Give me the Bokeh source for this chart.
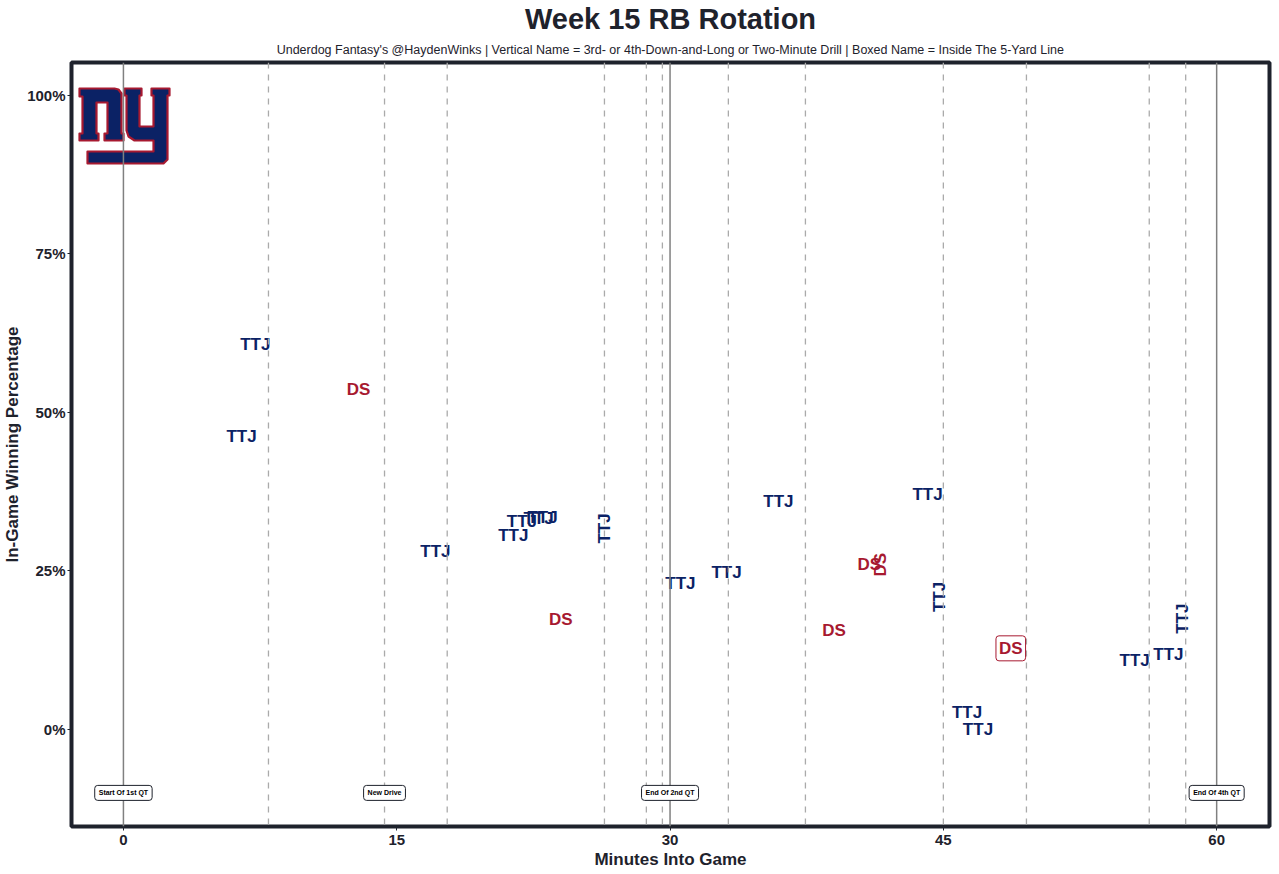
import numpy as np
from bokeh.plotting import figure
from bokeh.models import Range1d, FixedTicker, Span, Label, Title, ColumnDataSource
from bokeh.embed import file_html
from bokeh.resources import INLINE
from bokeh.core.properties import value

# ---------------- data ----------------
players  = ["TTJ", "TTJ", "DS", "TTJ", "TTJ", "TTJ", "TTJ", "TTJ", "TTJ", "DS",
            "TTJ", "TTJ", "TTJ", "TTJ", "DS", "DS", "DS", "TTJ", "TTJ", "TTJ",
            "DS", "TTJ", "TTJ", "TTJ"]
minutes  = [6.48, 7.24, 12.9, 17.12, 21.4, 21.87, 22.78, 23.0, 26.4, 24.0,
            30.57, 33.1, 35.95, 44.13, 39.0, 40.94, 41.55, 44.8, 46.3, 46.9,
            48.7, 55.5, 57.35, 58.1]
win_pct  = [46.2, 60.7, 53.6, 28.1, 30.6, 32.8, 33.3, 33.4, 31.7, 17.4,
            23.0, 24.8, 36.0, 37.1, 15.6, 26.0, 26.0, 20.9, 2.7, 0.0,
            12.8, 10.9, 11.8, 17.5]
vertical = [False, False, False, False, False, False, False, False, True, False,
            False, False, False, False, False, False, True, True, False, False,
            False, False, False, True]
boxed    = [False, False, False, False, False, False, False, False, False, False,
            False, False, False, False, False, False, False, False, False, False,
            True, False, False, False]

quarter_lines = [0, 30, 60]
drive_lines = [7.96, 14.33, 17.77, 26.4, 28.7, 29.58, 33.2, 37.43, 45.0, 49.56, 56.3, 58.3]
marker_minutes = [0, 14.33, 30, 60]
marker_labels = ["Start Of 1st QT", "New Drive", "End Of 2nd QT", "End Of 4th QT"]
marker_level = -10

x_ticks = [0, 15, 30, 45, 60]
y_ticks = [0, 25, 50, 75, 100]
y_tick_labels = ["0%", "25%", "50%", "75%", "100%"]

# ---------------- style ----------------
NAVY = "#0B2265"
RED = "#A71930"
DARK = "#1e222c"
FONT = "Liberation Sans"
player_color = {"TTJ": NAVY, "DS": RED}

X0, X1 = -2.85, 62.9
Y0, Y1 = -15.3, 105.2
FW, FH = 1198, 764

p = figure(frame_width=FW, frame_height=FH, output_backend="svg", toolbar_location=None,
           x_range=Range1d(X0, X1), y_range=Range1d(Y0, Y1),
           min_border_left=65, min_border_right=5, min_border_top=10, min_border_bottom=10)
p.background_fill_color = "white"
p.border_fill_color = "white"
p.outline_line_color = DARK
p.outline_line_width = 4
p.grid.visible = False

# titles
p.add_layout(Title(text="Underdog Fantasy's @HaydenWinks | Vertical Name = 3rd- or 4th-Down-and-Long or Two-Minute Drill | Boxed Name = Inside The 5-Yard Line",
                   align="center", text_font_size="12.5px", text_font_style="normal",
                   text_font=FONT, text_color=DARK, standoff=12), "above")
p.add_layout(Title(text="Week 15 RB Rotation", align="center", text_font_size="29px",
                   text_font_style="bold", text_font=FONT, text_color=DARK, standoff=0), "above")

# axes
for ax in (p.xaxis[0], p.yaxis[0]):
    ax.axis_line_color = None
    ax.major_tick_line_color = DARK
    ax.major_tick_out = 4
    ax.major_tick_in = 0
    ax.minor_tick_line_color = None
    ax.major_label_text_font = FONT
    ax.major_label_text_font_style = "bold"
    ax.major_label_text_font_size = "15px"
    ax.major_label_text_color = DARK
    ax.axis_label_text_font = FONT
    ax.axis_label_text_font_style = "bold"
    ax.axis_label_text_font_size = "17px"
    ax.axis_label_text_color = DARK
p.xaxis[0].ticker = FixedTicker(ticks=x_ticks)
p.yaxis[0].ticker = FixedTicker(ticks=y_ticks)
p.yaxis[0].major_label_overrides = {t: l for t, l in zip(y_ticks, y_tick_labels)}
p.xaxis[0].axis_label = "Minutes Into Game"
p.yaxis[0].axis_label = "In-Game Winning Percentage"
p.xaxis[0].axis_label_standoff = 2
p.yaxis[0].axis_label_standoff = 2
p.xaxis[0].major_label_standoff = 4
p.yaxis[0].major_label_standoff = 2

# vertical reference lines
for m in drive_lines:
    p.add_layout(Span(location=m, dimension="height", line_color="#aaaaaa",
                      line_width=1.3, line_dash="6 6"))
for m in quarter_lines:
    p.add_layout(Span(location=m, dimension="height", line_color="#808080", line_width=1.5))

# logo (decorative), drawn in frame pixel units then mapped to data
sx = (X1 - X0) / FW
sy = (Y1 - Y0) / FH
LX, LY = 8, 26  # logo top-left in frame px
n_shape = [(0, 0), (35, 0), (39, 1), (42, 5), (42, 45), (44, 45), (44, 52), (25, 52), (25, 45),
           (28, 45), (28, 14), (17, 14), (17, 45), (19, 45), (19, 52), (0, 52), (0, 45), (3, 45),
           (3, 8), (0, 8)]
y_shape = [(45, 0), (62, 0), (62, 7), (60, 7), (60, 38), (74, 38), (74, 7), (72, 7), (72, 0),
           (90, 0), (90, 7), (88, 7), (88, 71), (84, 75), (8, 75), (8, 63), (74, 63), (74, 52),
           (55, 52), (49, 48), (47, 42), (47, 7), (45, 7)]
lxs, lys = [], []
for shp in (n_shape, y_shape):
    lxs.append([X0 + (LX + a) * sx for a, b in shp])
    lys.append([Y1 - (LY + b) * sy for a, b in shp])
p.patches(lxs, lys, fill_color=NAVY, line_color=RED, line_width=2.2, line_join="round")

# player labels
plain = [i for i in range(len(players)) if not boxed[i]]
src = ColumnDataSource(dict(
    x=[minutes[i] for i in plain],
    y=[win_pct[i] for i in plain],
    name=[players[i] for i in plain],
    color=[player_color[players[i]] for i in plain],
    angle=[np.pi / 2 if vertical[i] else 0.0 for i in plain],
))
p.text(x="x", y="y", text="name", source=src, text_color="color", angle="angle",
       text_font=value(FONT), text_font_style="bold", text_font_size="17px",
       text_align="center", text_baseline="middle")

for i in range(len(players)):
    if boxed[i]:
        p.add_layout(Label(x=minutes[i], y=win_pct[i], text=players[i],
                           text_color=player_color[players[i]], text_font=FONT,
                           text_font_style="bold", text_font_size="17px",
                           text_align="center", text_baseline="middle",
                           angle=np.pi / 2 if vertical[i] else 0.0,
                           background_fill_color="white", border_line_color=RED,
                           border_line_width=1, border_radius=3, padding=3))

# game-state markers
for m, t in zip(marker_minutes, marker_labels):
    p.add_layout(Label(x=m, y=marker_level, text=t, text_color="black", text_font=FONT,
                       text_font_style="bold", text_font_size="7px",
                       text_align="center", text_baseline="middle",
                       background_fill_color="white", border_line_color=DARK,
                       border_line_width=1, border_radius=3, padding=4))

open("out.html", "w").write(file_html(p, INLINE))
